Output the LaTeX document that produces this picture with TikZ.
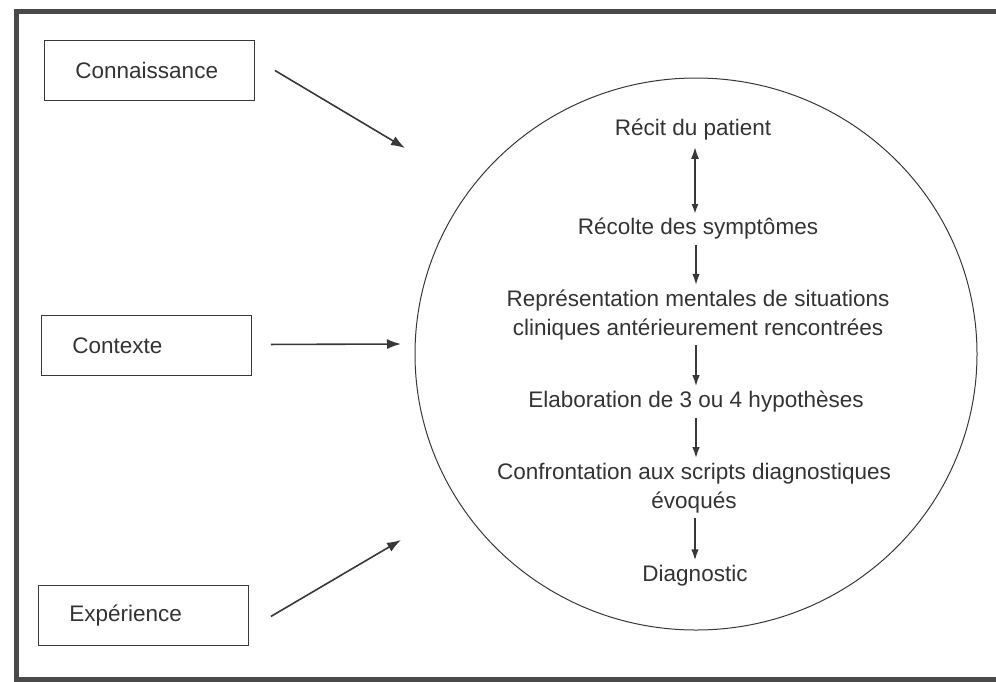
\documentclass[tikz,border=0pt]{standalone}
\usepackage{fontspec}
\setmainfont{Liberation Sans}
\usetikzlibrary{arrows.meta,shapes.geometric}
\definecolor{inkline}{HTML}{383838}
\definecolor{inktext}{HTML}{333333}
\definecolor{framegray}{HTML}{4A4A4A}
\begin{document}
\begin{tikzpicture}[x=1pt,y=-1pt,
  every node/.style={font=\fontsize{22.5}{28.5}\selectfont, text=inktext},
  srcbox/.style={draw=inkline, line width=0.9pt, anchor=north west,
    minimum width=210pt, minimum height=60pt, inner xsep=31pt, inner ysep=0pt,
    text width=148pt, align=left},
  stage/.style={inner sep=0pt, align=center},
  feed/.style={draw=inkline, line width=1.6pt,
    -{Latex[length=14pt,width=10pt]}},
  flow/.style={draw=inkline, line width=2.6pt,
    -{Latex[length=12pt,width=7.5pt]}, shorten <=5pt, shorten >=4pt},
  twoway/.style={flow, {Latex[length=13pt,width=8pt]}-{Latex[length=10pt,width=7pt]}}
]
\useasboundingbox (0,0) rectangle (996,681);

% outer frame, open on the right
\draw[framegray, line width=5pt] (996,11) -- (16,11) -- (16,679) -- (996,679);

% the three influences
\node[srcbox] (conn) at (44,40)  {Connaissance};
\node[srcbox] (ctx)  at (41,315) {Contexte};
\node[srcbox] (exp)  at (38,585) {Expérience};

% the reasoning process
\node[draw=inkline, line width=1pt, ellipse, inner sep=0pt,
      minimum width=562pt, minimum height=552pt] (proc) at (696,354) {};

\node[stage] (recit)  at (693,130) {Récit du patient};
\node[stage] (recolte) at (698,229) {Récolte des symptômes};
\node[stage] (repr)   at (698,315) {Représentation mentales de situations\\cliniques antérieurement rencontrées};
\node[stage] (elab)   at (696,402) {Elaboration de 3 ou 4 hypothèses};
\node[stage] (conf)   at (694,488) {Confrontation aux scripts diagnostiques\\évoqués};
\node[stage] (diag)   at (695,576) {Diagnostic};

% arrow end points pointing at the circle
\coordinate (connEnd) at (405,148);
\coordinate (ctxEnd)  at (401,344);
\coordinate (expEnd)  at (401,540);

\draw[feed] (conn.east) ++(20,0) coordinate (connStart) -- (connEnd);
\draw[feed] (ctx.east)  ++(19,-1) coordinate (ctxStart) -- (ctxEnd);
\draw[feed] (exp.east)  ++(22,1) coordinate (expStart) -- (expEnd);

\draw[twoway] (recit.south -| 695,0) -- (recolte.north -| 695,0);
\draw[flow] (recolte.south -| 696,0) -- (repr.north -| 696,0);
\draw[flow] (repr.south -| 696,0) -- (elab.north -| 696,0);
\draw[flow] (elab.south -| 696,0) -- (conf.north -| 696,0);
\draw[flow] (conf.south -| 695,0) -- (diag.north -| 695,0);
\end{tikzpicture}
\end{document}
